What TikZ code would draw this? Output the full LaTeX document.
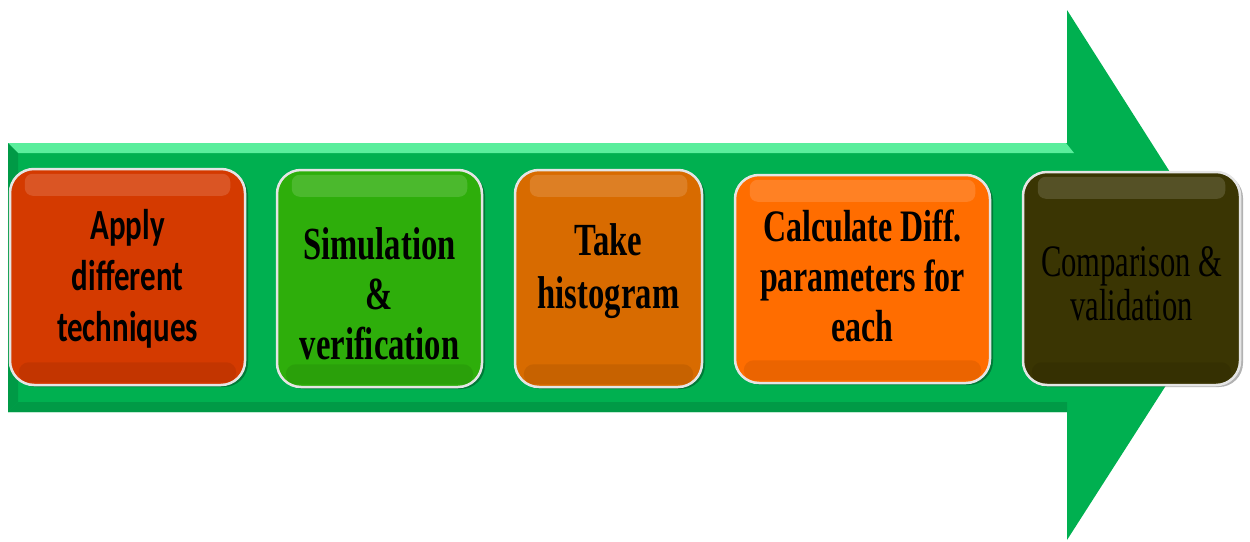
\documentclass[tikz,border=0pt]{standalone}
\usepackage{fontspec}
\newfontfamily\sansbox[FakeStretch=0.72]{Carlito}
\newfontfamily\serifbold[FakeStretch=0.71]{Liberation Serif}
\newfontfamily\serifreg[FakeStretch=0.68]{Liberation Serif}
\usetikzlibrary{shadows}
\definecolor{arrowgreen}{HTML}{00B050}
\definecolor{arrowlight}{HTML}{5AEE9C}
\definecolor{arrowdark}{HTML}{009A46}
\definecolor{cA}{HTML}{D43A00}
\definecolor{cB}{HTML}{2EAE0B}
\definecolor{cC}{HTML}{D86B00}
\definecolor{cD}{HTML}{FF6D00}
\definecolor{cE}{HTML}{3A3503}
\tikzset{
  stepbox/.style={draw=white!90!black, line width=2.5pt, rounded corners=24pt,
    inner sep=0pt, drop shadow={shadow xshift=3pt, shadow yshift=-2pt, opacity=0.3, fill=black}},
  steptext/.style={align=center, text=black, inner sep=0pt},
}
\begin{document}
\begin{tikzpicture}[x=1pt,y=-1pt]
\useasboundingbox (0,0) rectangle (1250,541);
% big arrow
\fill[arrowgreen] (8,143) -- (1067,143) -- (1067,10) -- (1236,276) -- (1067,540) -- (1067,412) -- (8,412) -- cycle;
\fill[arrowlight] (8,143) -- (1066,143) -- (1074,153) -- (18,153) -- cycle;
\fill[arrowdark] (8,143) -- (18,153) -- (18,402) -- (8,412) -- cycle;
\fill[arrowdark] (8,412) -- (18,402) -- (1067,402) -- (1067,412) -- cycle;
% boxes
\node[stepbox, fill=cA, minimum width=235pt, minimum height=216pt] (b1) at (127.5,277) {};
\node[stepbox, fill=cB, minimum width=205pt, minimum height=217pt] (b2) at (379.5,278.5) {};
\node[stepbox, fill=cC, minimum width=187pt, minimum height=217pt] (b3) at (608.5,278.5) {};
\node[stepbox, fill=cD, minimum width=255pt, minimum height=208pt] (b4) at (862.5,279) {};
\node[stepbox, fill=cE, minimum width=217pt, minimum height=213pt] (b5) at (1131.5,278.5) {};
% highlights
\foreach \b in {b1,b2,b3,b4,b5}{
  \fill[white, opacity=0.14, rounded corners=8pt] ([shift={(16,6)}]\b.north west) rectangle ([shift={(-16,28)}]\b.north east);
  \fill[black, opacity=0.08, rounded corners=10pt] ([shift={(10,-24)}]\b.south west) rectangle ([shift={(-10,-4)}]\b.south east);
}
% texts
\node[steptext, font=\sansbox\bfseries\fontsize{43}{51}\selectfont] (t1) at (127.5,279) {Apply\\different\\techniques};
\node[steptext, font=\serifbold\bfseries\fontsize{46}{50}\selectfont] (t2) at (379.5,294) {Simulation\\\&\\verification};
\node[steptext, font=\serifbold\bfseries\fontsize{46}{53}\selectfont] (t3) at (608.5,271) {Take\\histogram};
\node[steptext, font=\serifbold\bfseries\fontsize{45}{50}\selectfont] (t4) at (862.5,276) {Calculate Diff.\\parameters for\\each};
\node[steptext, font=\serifreg\fontsize{45}{44}\selectfont] (t5) at (1131.5,284) {Comparison\,\&\\validation};
\end{tikzpicture}
\end{document}
